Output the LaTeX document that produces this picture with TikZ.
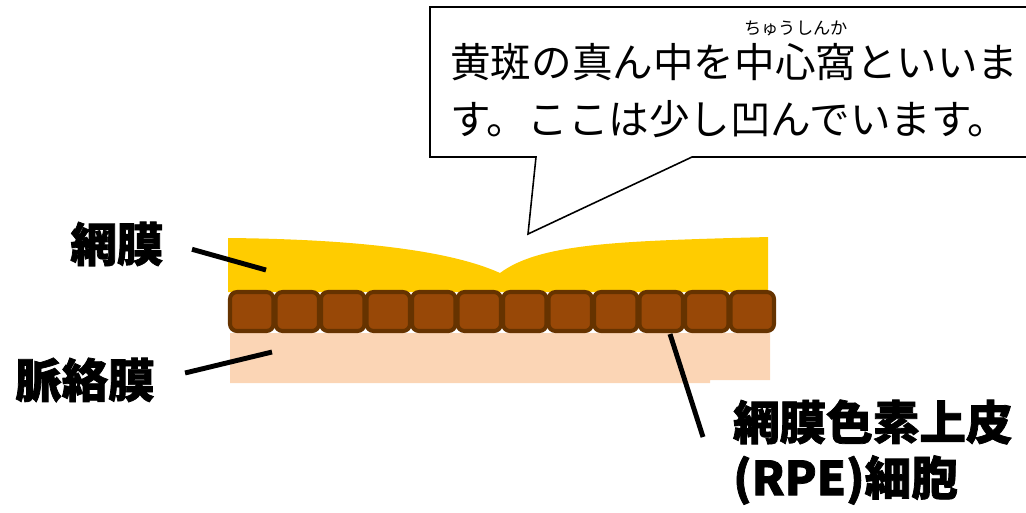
\documentclass[tikz,border=0pt]{standalone}
\usepackage{fontspec}
\newfontfamily\jpfont{Noto Sans CJK JP}
\newfontfamily\jpheavy[BoldFeatures={FakeBold=1.6}]{Noto Sans CJK JP}
\usetikzlibrary{positioning}

\definecolor{retinaYellow}{HTML}{FFCC00}
\definecolor{choroidPeach}{HTML}{FBD5B5}
\definecolor{rpeFill}{HTML}{984807}
\definecolor{rpeEdge}{HTML}{663300}

\tikzset{
  layerlabel/.style={font=\jpheavy\bfseries\fontsize{26.5}{28}\selectfont, inner sep=1pt},
  leader/.style={line width=2.8pt, black},
  rpecell/.style={fill=rpeFill, draw=rpeEdge, line width=2.3pt, rounded corners=4pt},
  bubbletext/.style={font=\jpfont\fontsize{23.1}{24}\selectfont, anchor=west, inner sep=0pt}
}

\begin{document}
\begin{tikzpicture}[x=0.02cm, y=-0.02cm]
    \useasboundingbox (0,0) rectangle (1026,512);

    % Choroid
    \fill[choroidPeach] (230,333) -- (770,333) -- (770,380) -- (710,380) -- (710,383) -- (230,383) -- cycle;

    % Retina with the foveal dip
    \fill[retinaYellow] (228,238) .. controls (340,239) and (445,248) .. (500,273)
        .. controls (540,243) and (620,241) .. (768,237) -- (768,292) -- (228,292) -- cycle;

    % RPE cells
    \foreach \i in {0,...,11}
        \path[rpecell] ({230+45.5*\i},292) rectangle ({228+45.5*(\i+1)},331);

    % Speech bubble
    \draw[fill=white, line width=0.9pt] (1030,7) -- (430,7) -- (430,157) -- (536,157)
        -- (528,234) -- (692,157) -- (1030,157);
    \node[bubbletext] (line1) at (450,62) {黄斑の真ん中を中心窩といいま};
    \node[bubbletext] (line2) at (450,119) {す。ここは少し凹んでいます。};
    \node[font=\jpfont\fontsize{9.8}{10}\selectfont, inner sep=0pt] (ruby) at (796,28) {ちゅうしんか};

    % Labels
    \node[layerlabel] (retina) at (117,244) {網膜};
    \node[layerlabel] (choroid) at (85,380) {脈絡膜};
    \node[layerlabel, anchor=west] (rpe1) at (731,422) {網膜色素上皮};
    \node[layerlabel, anchor=west] (rpe2) at (731,480) {(RPE)細胞};

    % Leader lines
    \coordinate (retinaEnd) at (266,270);
    \coordinate (choroidEnd) at (272,352);
    \coordinate (rpeEnd) at (670,334);
    \coordinate (rpeStart) at (703,437);
    \draw[leader] ([xshift=15pt,yshift=-3pt]retina.east) -- (retinaEnd);
    \draw[leader] ([xshift=16pt,yshift=4pt]choroid.east) -- (choroidEnd);
    \draw[leader] (rpeStart) -- (rpeEnd);
\end{tikzpicture}
\end{document}
